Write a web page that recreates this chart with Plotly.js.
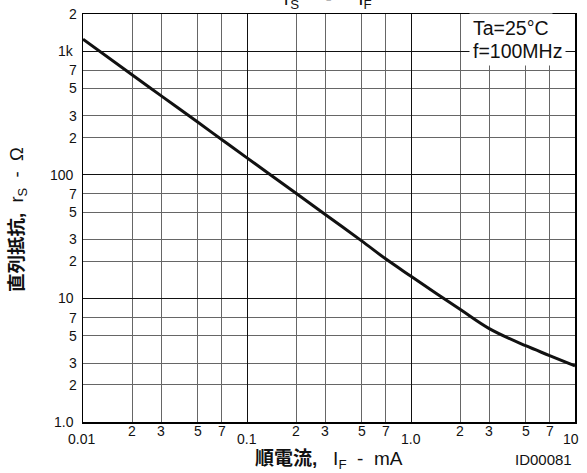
<!DOCTYPE html>
<html>
<head>
<meta charset="utf-8">
<script src="https://cdn.plot.ly/plotly-3.0.1.min.js"></script>
<style>
  html, body { margin: 0; padding: 0; background: #fff; }
  #chart { width: 587px; height: 473px; }
</style>
</head>
<body>
<div id="chart"></div>
<script>
// ---- data ----
const forwardCurrent_mA = [0.01, 0.02, 0.03, 0.05, 0.07, 0.1, 0.2, 0.3, 0.5, 0.7, 1.0, 2, 3, 5, 7, 10];
const seriesResistance_ohm = [1250, 643, 435, 267, 193, 137, 70.5, 47.8, 29.2, 20.9, 15.1, 8.13, 5.7, 4.14, 3.45, 2.84];

const xMajorVals = [0.01, 0.1, 1, 10];
const xMajorLabels = ['0.01', '0.1', '1.0', '10'];
const xMinorVals = [0.02, 0.03, 0.05, 0.07, 0.2, 0.3, 0.5, 0.7, 2, 3, 5, 7];
const xMinorLabels = ['2', '3', '5', '7', '2', '3', '5', '7', '2', '3', '5', '7'];

const yMajorVals = [1, 10, 100, 1000];
const yMajorLabels = ['1.0', '10', '100', '1k'];
const yMinorVals = [2, 3, 5, 7, 20, 30, 50, 70, 200, 300, 500, 700, 2000];
const yMinorLabels = ['2', '3', '5', '7', '2', '3', '5', '7', '2', '3', '5', '7', '2'];

const conditionLines = ['Ta=25°C', 'f=100MHz'];
const NB = '\u00a0';
const titleText = 'r<sub>S</sub>' + NB.repeat(5) + '-' + NB.repeat(5) + 'I<sub>F</sub>';
const xTitleText = '<b>順電流,</b>' + NB.repeat(3) + 'I<sub>F</sub>' + NB.repeat(2) + '-' + NB.repeat(2) + 'mA';
const yTitleText = '<b>直列抵抗,</b>' + NB.repeat(2) + 'r<sub>S</sub>' + NB.repeat(2) + '-' + NB.repeat(2) + 'Ω';
const figureId = 'ID00081';

// ---- styling ----
const LATIN = 'Liberation Sans, Arial, Helvetica, sans-serif';
const MIXED = 'Liberation Sans, Arial, Noto Sans CJK JP, sans-serif';
const tickFont = { family: LATIN, size: 14, color: '#111' };

const annotations = [];
xMinorVals.forEach((v, i) => annotations.push({
  x: Math.log10(v), xref: 'x', xanchor: 'center', y: 0, yref: 'paper', yanchor: 'top', yshift: 1,
  text: xMinorLabels[i], showarrow: false, font: tickFont
}));
xMajorVals.forEach((v, i) => annotations.push({
  x: Math.log10(v), xref: 'x', xanchor: 'center', y: 0, yref: 'paper', yanchor: 'top', yshift: -7,
  xshift: (i === xMajorVals.length - 1) ? -4 : (i === 0 ? -2 : 0),
  text: xMajorLabels[i], showarrow: false, font: tickFont
}));
yMajorVals.concat(yMinorVals).forEach((v, i) => {
  const lbl = yMajorLabels.concat(yMinorLabels)[i];
  annotations.push({
    x: 0, xref: 'paper', xanchor: 'right', xshift: (lbl.length === 1 ? -4 : -7),
    y: Math.log10(v), yref: 'y', yanchor: 'middle', text: lbl, showarrow: false, font: tickFont
  });
});
// conditions box (two lines, white background hiding the grid)
conditionLines.forEach((t, i) => annotations.push({
  x: 1, xref: 'paper', xanchor: 'left', xshift: -106,
  y: 1, yref: 'paper', yanchor: 'middle', yshift: -(14 + 23 * i),
  text: t, align: 'left', showarrow: false,
  bgcolor: '#ffffff', borderpad: 3,
  font: { family: LATIN, size: 19.5, color: '#111' }
}));
// chart title (mostly cut off at the top, as in the reference)
annotations.push({
  x: 0.497, xref: 'paper', xanchor: 'center', y: 1, yref: 'paper', yanchor: 'bottom', yshift: 0,
  text: titleText, showarrow: false,
  font: { family: LATIN, size: 19, color: '#111' }
});
// axis titles
annotations.push({
  x: 0.5, xref: 'paper', xanchor: 'center', y: 0, yref: 'paper', yanchor: 'middle', yshift: -38,
  text: xTitleText, showarrow: false,
  font: { family: MIXED, size: 19, color: '#111' }
});
annotations.push({
  x: 0, xref: 'paper', xanchor: 'center', xshift: -65,
  y: 0.5, yref: 'paper', yanchor: 'middle', yshift: -2, textangle: -90,
  text: yTitleText, showarrow: false,
  font: { family: MIXED, size: 18.5, color: '#111' }
});
annotations.push({
  x: 1, xref: 'paper', xanchor: 'right', xshift: -1,
  y: 0, yref: 'paper', yanchor: 'middle', yshift: -37,
  text: figureId, showarrow: false,
  font: { family: LATIN, size: 15, color: '#111' }
});

const axisCommon = {
  type: 'log', showticklabels: false, ticks: '',
  showgrid: true, gridcolor: '#111', gridwidth: 1,
  showline: true, mirror: true, linecolor: '#000', linewidth: 1.5,
  zeroline: false, fixedrange: true
};

const layout = {
  width: 587, height: 473,
  margin: { l: 83, r: 12, t: 14, b: 51, pad: 0 },
  paper_bgcolor: '#fff', plot_bgcolor: '#fff',
  showlegend: false,
  xaxis: Object.assign({}, axisCommon, {
    range: [-2, 1], tickvals: xMajorVals,
    minor: { tickvals: xMinorVals, showgrid: true, gridcolor: '#666', gridwidth: 1, ticks: '' }
  }),
  yaxis: Object.assign({}, axisCommon, {
    range: [0, Math.log10(2000)], tickvals: yMajorVals,
    minor: { tickvals: yMinorVals, showgrid: true, gridcolor: '#666', gridwidth: 1, ticks: '' }
  }),
  annotations: annotations
};

const traces = [{
  type: 'scatter', mode: 'lines',
  x: forwardCurrent_mA, y: seriesResistance_ohm,
  line: { color: '#111', width: 3, shape: 'spline', smoothing: 1 },
  hoverinfo: 'skip'
}];

Plotly.newPlot('chart', traces, layout, { staticPlot: true, displayModeBar: false });
</script>
</body>
</html>
